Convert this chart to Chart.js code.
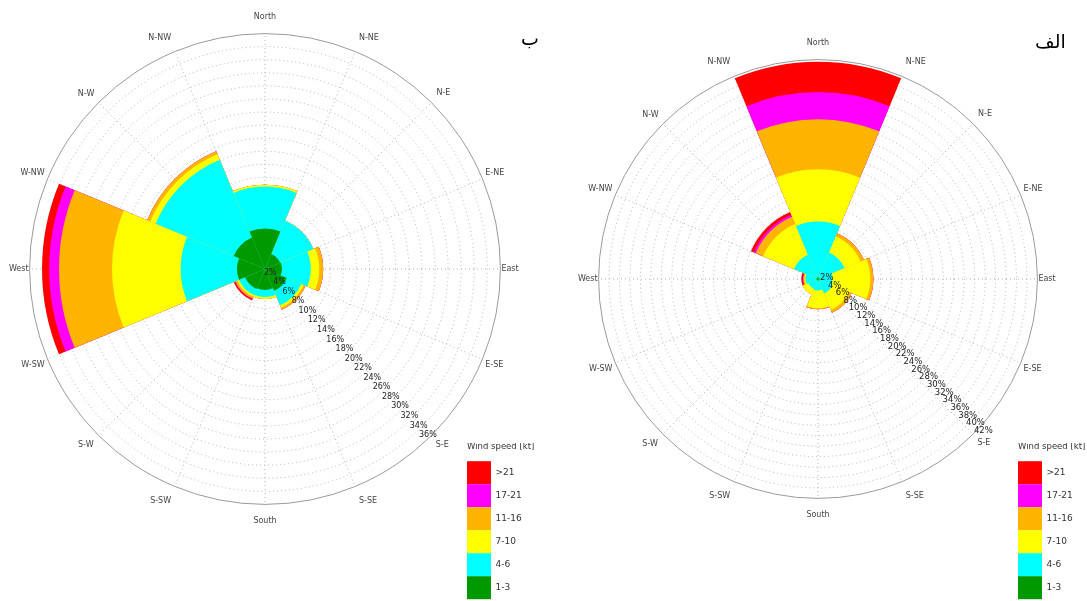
<!DOCTYPE html>
<html>
<head>
<meta charset="utf-8">
<script src="https://cdn.jsdelivr.net/npm/chart.js@4.4.1/dist/chart.umd.min.js"></script>
<style>
  body { margin: 0; background: #fff; }
  #wrap { position: relative; width: 1087px; height: 601px; overflow: hidden; background: #fff; }
  canvas { position: absolute; top: 0; }
  #roseB { left: 0; }
  #roseA { left: 545px; }
  .tag { position: absolute; font-family: 'DejaVu Sans', sans-serif; font-size: 19px; color: #000; direction: rtl; }
</style>
</head>
<body>
<div id="wrap">
  <canvas id="roseB" width="545" height="601"></canvas>
  <canvas id="roseA" width="542" height="601"></canvas>
  <div class="tag" style="left:521px;top:27px">ب</div>
  <div class="tag" style="left:1035px;top:30px">الف</div>
</div>
<script>
// compass labels, first one sits at -22.5deg so sector 0 is centred on North
const pointLabels = ['N-NW', 'North', 'N-NE', 'N-E', 'E-NE', 'East', 'E-SE', 'S-E',
                     'S-SE', 'South', 'S-SW', 'S-W', 'W-SW', 'West', 'W-NW', 'N-W'];
const sectors = ['N', 'NE', 'E', 'SE', 'S', 'SW', 'W', 'NW'];
const speedClasses = ['1-3', '4-6', '7-10', '11-16', '17-21', '>21'];
const speedColors = ['#009a00', '#00ffff', '#ffff00', '#ffb400', '#ff00ff', '#ff0000'];

// rose "ب" (left), frequency % per sector N..NW
const b13   = [6.2, 2.5, 2.6, 3.6, 3.2, 3.3, 4.3, 5.2];
const b46   = [6.4, 5.5, 4.4, 2.4, 1.1, 1.0, 8.6, 12.9];
const b710  = [0.3, 0.0, 1.3, 0.4, 0.3, 0.3, 10.5, 0.9];
const b1116 = [0.0, 0.0, 0.6, 0.3, 0.0, 0.3, 8.1, 0.5];
const b1721 = [0.0, 0.0, 0.0, 0.0, 0.0, 0.1, 1.5, 0.0];
const b21   = [0.0, 0.0, 0.0, 0.0, 0.0, 0.2, 1.1, 0.0];
const bMax = 36;

// rose "الف" (right)
const a13   = [0.3, 0.3, 0.3, 0.3, 0.3, 0.3, 0.3, 0.3];
const a46   = [10.7, 5.2, 2.5, 2.7, 1.9, 1.7, 2.1, 4.7];
const a710  = [10.0, 3.3, 7.2, 3.4, 3.4, 1.2, 0.2, 6.4];
const a1116 = [9.6, 0.7, 0.6, 0.6, 0.2, 0.0, 0.2, 1.5];
const a1721 = [5.2, 0.0, 0.0, 0.0, 0.0, 0.0, 0.1, 0.4];
const a21   = [5.8, 0.0, 0.0, 0.0, 0.0, 0.0, 0.3, 0.6];
const aMax = 42;

const stackUp = (classes) => {
    let run = classes[0].map(() => 0);
    return classes.map(vals => {
        run = run.map((r, i) => +(r + vals[i]).toFixed(2));
        return run;
    });
}

// percentage labels along the S-E diagonal, unrotated
const pctLabels = {
    id: 'pctLabels',
    afterDatasetsDraw(chart, args, o) {
        const s = chart.scales.r, ctx = chart.ctx;
        ctx.save();
        ctx.font = o.size + 'px "DejaVu Sans"';
        ctx.fillStyle = '#222';
        ctx.textAlign = 'center';
        ctx.textBaseline = 'middle';
        s.ticks.forEach(t => {
            if (t.value <= 0) return;
            const d = s.getDistanceFromCenterForValue(t.value);
            ctx.fillText(t.value + '%', s.xCenter + d * o.dx + o.ox, s.yCenter + d * o.dy + o.oy);
        });
        ctx.restore();
    }
};

// put the legend in the lower right corner
const legendSpot = {
    id: 'legendSpot',
    afterLayout(chart, args, o) {
        const lg = chart.legend;
        lg.left = o.x; lg.top = o.y;
        lg.right = o.x + o.w; lg.bottom = o.y + lg.height;
    }
};

const makeRose = (id, classes, maxVal, pad, spot, lbl) => {
    const cum = stackUp(classes);
    return new Chart(document.getElementById(id), {
        type: 'polarArea',
        data: {
            labels: pointLabels,
            datasets: cum.map((vals, k) => ({
                label: speedClasses[k],
                data: vals,
                backgroundColor: speedColors[k],
                borderWidth: 0
            }))
        },
        options: {
            responsive: false,
            animation: false,
            layout: { padding: pad },
            scales: {
                r: {
                    min: 0,
                    max: maxVal,
                    startAngle: -22.5,
                    ticks: { display: false, stepSize: 2 },
                    grid: {
                        circular: true,
                        color: c => (c.tick && c.tick.value === maxVal) ? '#9a9a9a' : '#b4b4b4',
                        lineWidth: 1,
                        borderDash: [1, 3]
                    },
                    border: { dash: c => (c.tick && c.tick.value === maxVal) ? [] : [1, 3] },
                    angleLines: { display: true, color: '#b4b4b4', borderDash: [1, 3] },
                    pointLabels: {
                        display: true,
                        color: '#444',
                        font: { family: 'DejaVu Sans', size: 8 },
                        padding: c => {
                            const th = (-22.5 + 22.5 * c.index) * Math.PI / 180;
                            return Math.round(1 + 11 * Math.cos(th) ** 2);
                        }
                    }
                }
            },
            plugins: {
                tooltip: { enabled: false },
                legend: {
                    position: 'chartArea',
                    align: 'start',
                    onClick: null,
                    title: {
                        display: true,
                        text: 'Wind speed [kt]',
                        position: 'start',
                        color: '#333',
                        font: { family: 'DejaVu Sans', size: 8.5 },
                        padding: { top: 0, bottom: 8 }
                    },
                    labels: {
                        boxWidth: 24,
                        boxHeight: 23,
                        padding: 0,
                        color: '#333',
                        font: { family: 'DejaVu Sans', size: 9 },
                        generateLabels: () => speedClasses.map((t, k) => ({
                            text: t,
                            fillStyle: speedColors[k],
                            strokeStyle: speedColors[k],
                            lineWidth: 0,
                            hidden: false,
                            index: k
                        })).reverse()
                    }
                },
                legendSpot: spot,
                pctLabels: lbl
            }
        },
        plugins: [pctLabels, legendSpot]
    });
}

makeRose('roseB', [b13, b46, b710, b1116, b1721, b21], bMax,
    { left: 7, right: 24, top: 13, bottom: 74 },
    { x: 467, y: 443, w: 78 },
    { dx: 0.709, dy: 0.731, ox: -4, oy: -6, size: 8 });

makeRose('roseA', [a13, a46, a710, a1116, a1721, a21], aMax,
    { left: 31, right: 29, top: 39, bottom: 80 },
    { x: 473, y: 443, w: 69 },
    { dx: 0.749, dy: 0.733, ox: 1, oy: -9, size: 8.5 });
</script>
</body>
</html>
